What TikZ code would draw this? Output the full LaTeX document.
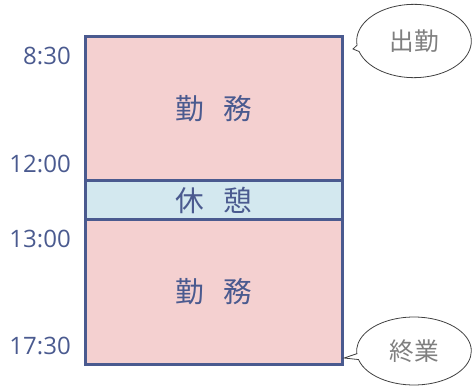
\documentclass[tikz,border=0pt]{standalone}
\usepackage{fontspec}
\usepackage{xcolor}
\setmainfont{Open Sans}
\newfontfamily\jpfont{Noto Sans CJK JP}
\usetikzlibrary{shapes.callouts}

\definecolor{frameblue}{HTML}{4A5A8F}
\definecolor{workpink}{HTML}{F4D0D0}
\definecolor{restblue}{HTML}{D3E8EF}
\definecolor{notegray}{HTML}{7F7F7F}

\begin{document}
\begin{tikzpicture}[x=0.75pt,y=-0.75pt,
  block/.style={draw=frameblue, line width=2.25pt, minimum width=192.4pt, inner sep=0pt,
    text=frameblue, font=\jpfont\fontsize{21.5}{22}\selectfont},
  timelabel/.style={anchor=east, inner sep=0pt, text=frameblue, font=\fontsize{18}{18}\selectfont},
  note/.style={ellipse callout, draw=black!75, line width=0.6pt, inner sep=0pt,
    minimum width=86pt, callout pointer arc=10, text=notegray,
    font=\jpfont\fontsize{18.5}{19}\selectfont}]
  \useasboundingbox (0,0) rectangle (472,387);

  % Work and break blocks
  \node[block, fill=workpink, minimum height=108.2pt] (work1) at (213.75,108.6) {勤\hspace{0.65em}務};
  \node[block, fill=workpink, minimum height=108.75pt] (work2) at (213.75,292) {勤\hspace{0.65em}務};
  \node[block, fill=restblue, minimum height=29.1pt] (rest) at (213.75,200.1) {休\hspace{0.65em}憩};

  % Times
  \node[timelabel] (t830) at (71,56) {8:30};
  \node[timelabel] (t1200) at (71,164) {12:00};
  \node[timelabel] (t1300) at (71,239) {13:00};
  \node[timelabel] (t1730) at (71,346) {17:30};

  % Notes
  \coordinate (inpt) at (353,49);
  \coordinate (outpt) at (344,358);
  \node[note, minimum height=55pt, callout absolute pointer=(inpt)] (clockin) at (414,41) {出勤};
  \node[note, minimum height=51pt, callout absolute pointer=(outpt)] (clockout) at (414,351) {終業};
\end{tikzpicture}
\end{document}
